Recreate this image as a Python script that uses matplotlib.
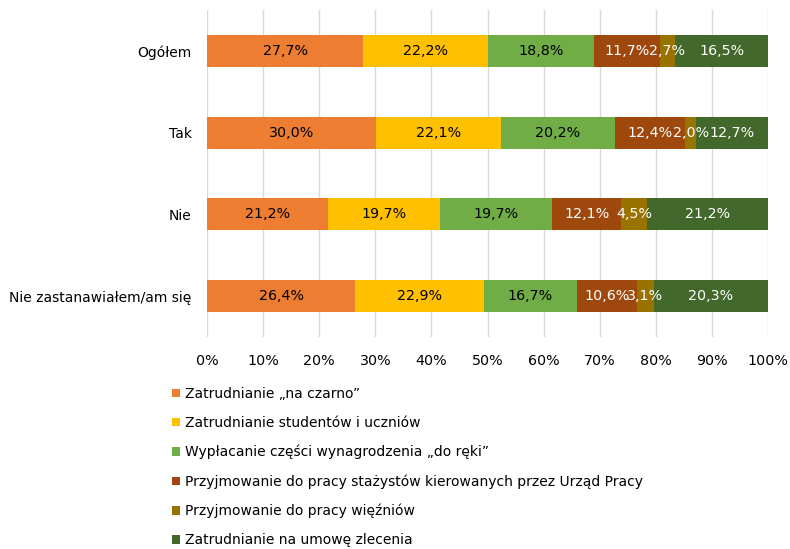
import matplotlib
matplotlib.use("Agg")
import matplotlib.pyplot as plt
from matplotlib.patches import Patch
from matplotlib.ticker import PercentFormatter

plt.rcParams["font.family"] = ["DejaVu Sans"]

categories = ["Ogółem", "Tak", "Nie", "Nie zastanawiałem/am się"]
series_names = [
    "Zatrudnianie „na czarno”",
    "Zatrudnianie studentów i uczniów",
    "Wypłacanie części wynagrodzenia „do ręki”",
    "Przyjmowanie do pracy stażystów kierowanych przez Urząd Pracy",
    "Przyjmowanie do pracy więźniów",
    "Zatrudnianie na umowę zlecenia",
]
na_czarno = [27.7, 30.0, 21.2, 26.4]
studenci = [22.2, 22.1, 19.7, 22.9]
do_reki = [18.8, 20.2, 19.7, 16.7]
stazysci = [11.7, 12.4, 12.1, 10.6]
wiezniowie = [2.7, 2.0, 4.5, 3.1]
zlecenie = [16.5, 12.7, 21.2, 20.3]
values = [na_czarno, studenci, do_reki, stazysci, wiezniowie, zlecenie]

COLORS = ["#ED7D31", "#FFC000", "#70AD47", "#9E480E", "#997300", "#43682B"]
LABEL_COLORS = ["#000000", "#000000", "#000000", "#FFFFFF", "#FFFFFF", "#FFFFFF"]
FS = 10

# 100% stacked: each row scaled so that it fills the axis, labels keep raw values
totals = [sum(col) for col in zip(*values)]

fig = plt.figure(figsize=(7.9, 5.49), dpi=100)
ax = fig.add_axes([207 / 790, 1 - 337 / 549, 561 / 790, 327 / 549])

y = list(range(len(categories)))
left = [0.0] * len(categories)
for vals, col, lcol in zip(values, COLORS, LABEL_COLORS):
    widths = [v / t * 100 for v, t in zip(vals, totals)]
    bars = ax.barh(y, widths, left=left, height=0.39, color=col, zorder=2)
    ax.bar_label(bars, labels=[f"{v:.1f}%".replace(".", ",") for v in vals],
                 label_type="center", color=lcol, fontsize=10.3)
    left = [a + b for a, b in zip(left, widths)]

ax.set_xlim(0, 100)
ax.set_ylim(3.5, -0.5)
ax.set_xticks(range(0, 101, 10))
ax.xaxis.set_major_formatter(PercentFormatter(decimals=0))
ax.set_yticks(y)
ax.set_yticklabels(categories, fontsize=FS)
ax.tick_params(axis="x", labelsize=10.3, length=0, pad=12)
ax.tick_params(axis="y", length=0, pad=11)
ax.grid(axis="x", color="#D9D9D9", linewidth=1, zorder=0)
for spine in ax.spines.values():
    spine.set_visible(False)

handles = [Patch(facecolor=c, edgecolor="none") for c in COLORS]
fig.legend(handles, series_names, loc="upper left",
           bbox_to_anchor=(165 / 790, 1 - 380 / 549), frameon=False,
           fontsize=FS, handlelength=0.6, handleheight=0.6, handletextpad=0.35,
           labelspacing=1.08, borderpad=0)

fig.savefig("out.png", dpi=100)
